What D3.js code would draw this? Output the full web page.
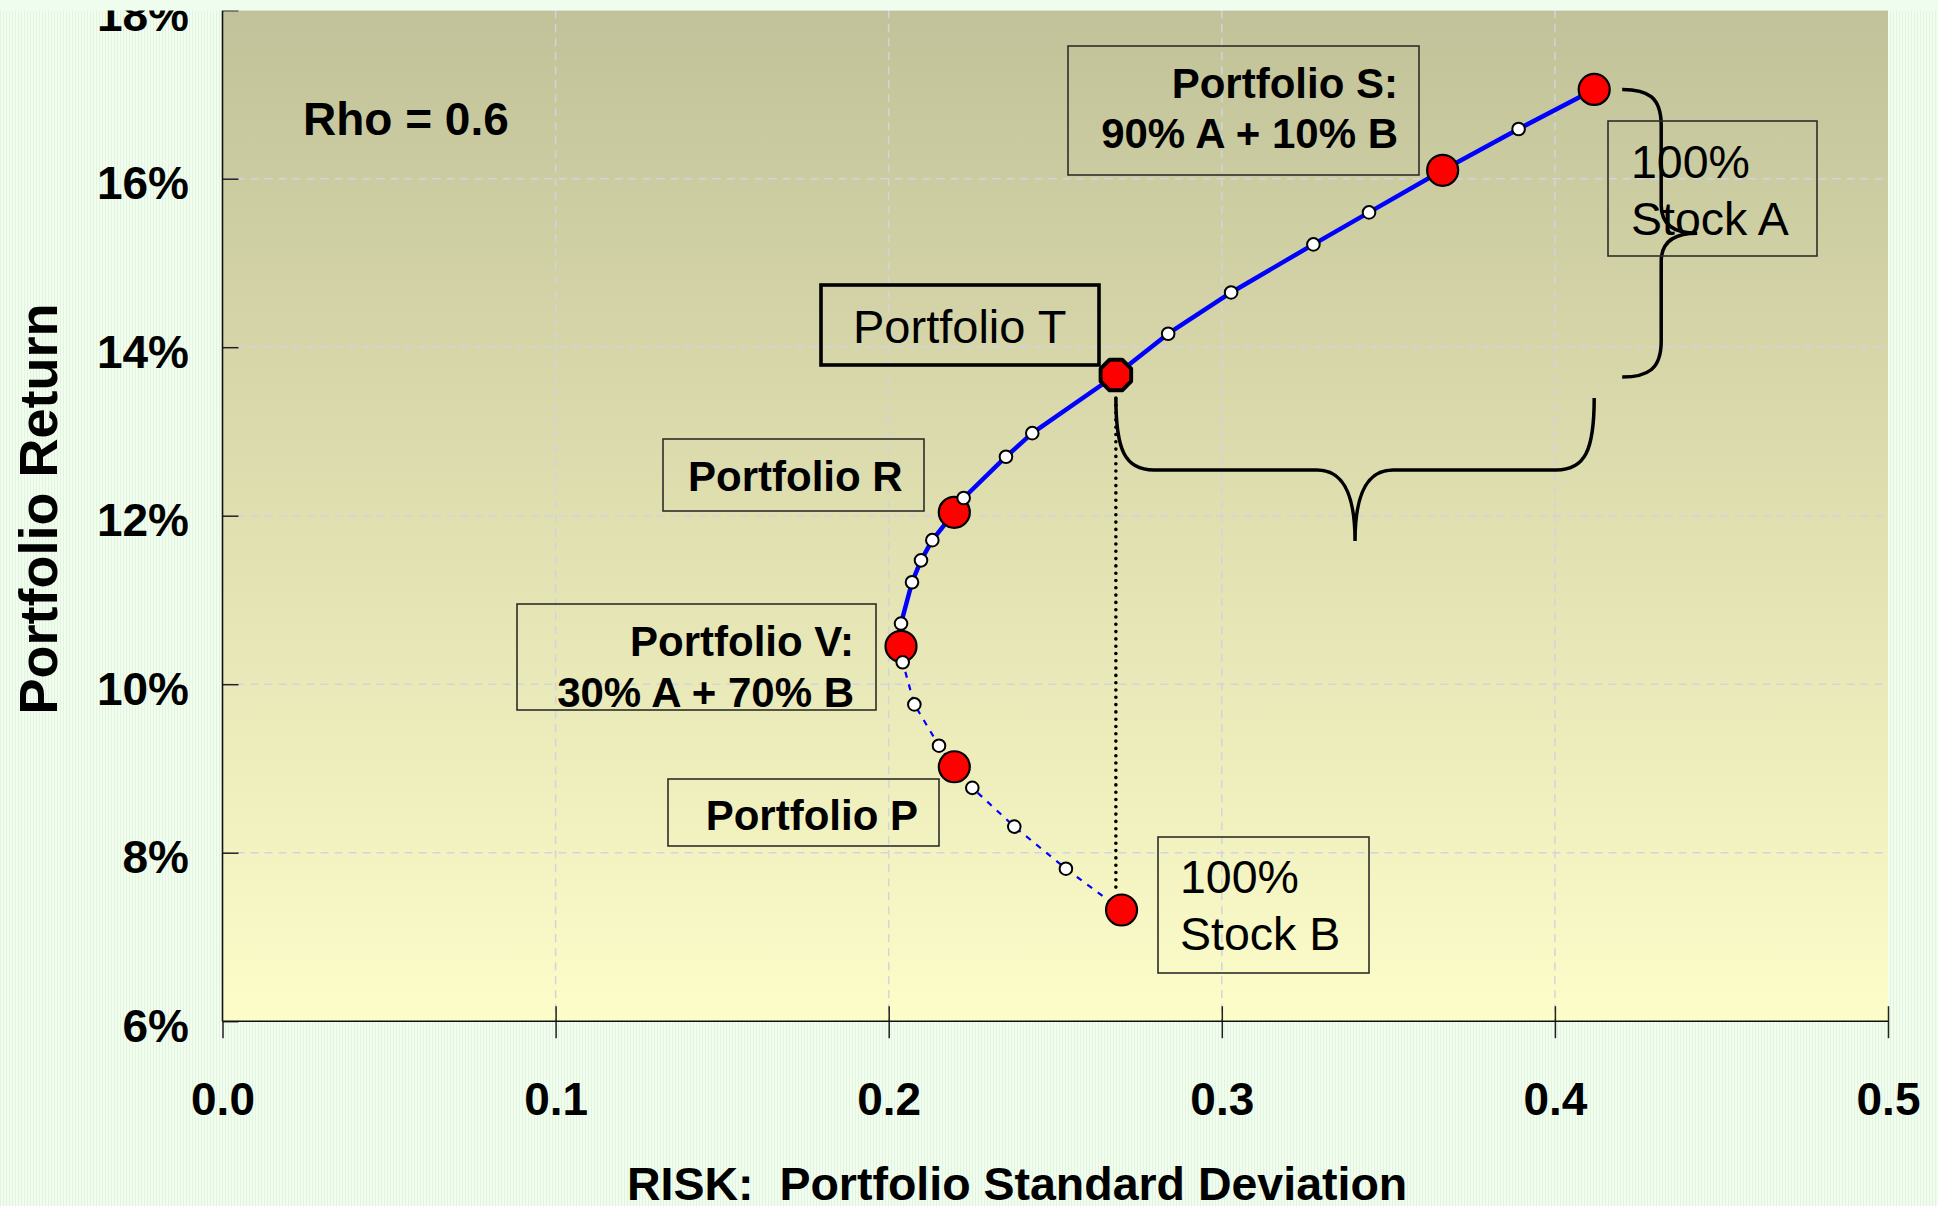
<!DOCTYPE html>
<html>
<head>
<meta charset="utf-8">
<title>Portfolio Return vs Risk, Rho = 0.6</title>
<script src="https://cdn.jsdelivr.net/npm/d3@7"></script>
<style>
  html, body { margin: 0; padding: 0; background: #eefbeb; }
  svg { display: block; font-family: "Liberation Sans", Arial, Helvetica, sans-serif; }
</style>
</head>
<body>
<svg id="chart" width="1938" height="1206"></svg>
<script>
// Two-asset portfolio frontier (Stock A / Stock B, correlation 0.6)
// Intermediate mixes along the frontier: risk (std. dev.) and return (%)
const frontierRisk   = [0.3891, 0.3442, 0.3275, 0.3028, 0.2839, 0.2431, 0.2352, 0.2225, 0.2131,
                        0.2097, 0.2070, 0.2037, 0.2042, 0.2077, 0.2151, 0.2251, 0.2377, 0.2532];
const frontierReturn = [16.59, 15.60, 15.22, 14.65, 14.16, 12.98, 12.70, 12.21, 11.71,
                        11.47, 11.21, 10.72, 10.26, 9.76, 9.27, 8.77, 8.31, 7.81];

// Highlighted portfolios
const keyNames  = ["A", "S", "T", "R", "V", "P", "B"];
const keyRisk   = [0.4118, 0.3663, 0.2682, 0.2197, 0.2037, 0.2197, 0.2699];
const keyReturn = [17.06, 16.10, 13.67, 12.04, 10.45, 9.02, 7.32];

// Axis ticks
const xTicks = [0.0, 0.1, 0.2, 0.3, 0.4, 0.5];
const yTicks = [6, 8, 10, 12, 14, 16, 18];
const xTickLabels = ["0.0", "0.1", "0.2", "0.3", "0.4", "0.5"];
const yTickLabels = ["6%", "8%", "10%", "12%", "14%", "16%", "18%"];

// Texts
const xTitle = "RISK:  Portfolio Standard Deviation";
const yTitle = "Portfolio Return";
const rhoText = "Rho = 0.6";

const W = 1938, H = 1206;
const svg = d3.select("#chart");
const defs = svg.append("defs");

// Page background with fine vertical texture
const pat = defs.append("pattern").attr("id", "tex").attr("width", 3).attr("height", 3)
  .attr("patternUnits", "userSpaceOnUse");
pat.append("rect").attr("width", 3).attr("height", 3).attr("fill", "#f1fdef");
pat.append("rect").attr("width", 1).attr("height", 3).attr("fill", "#e2f4de");
svg.append("rect").attr("width", W).attr("height", H).attr("fill", "url(#tex)");

const x = d3.scaleLinear().domain([0, 0.5]).range([222.5, 1888]);
const y = d3.scaleLinear().domain([6, 18]).range([1021.2, 10.2]);

// Plot area gradient (olive at top to pale yellow at bottom)
const grad = defs.append("linearGradient").attr("id", "plotbg")
  .attr("x1", 0).attr("y1", 0).attr("x2", 0).attr("y2", 1);
grad.append("stop").attr("offset", "0%").attr("stop-color", "#c2c29a");
grad.append("stop").attr("offset", "50%").attr("stop-color", "#dfdfb0");
grad.append("stop").attr("offset", "100%").attr("stop-color", "#fdfdca");

svg.append("rect")
  .attr("x", x(0)).attr("y", y(18))
  .attr("width", x(0.5) - x(0)).attr("height", y(6) - y(18))
  .attr("fill", "url(#plotbg)");

// Dashed grid
const grid = svg.append("g").attr("stroke", "#d3d3db").attr("stroke-width", 1.5)
  .attr("stroke-dasharray", "8,6");
grid.selectAll("line.gx").data(xTicks.filter(v => v > 0 && v < 0.5)).join("line")
  .attr("class", "gx")
  .attr("x1", d => x(d)).attr("x2", d => x(d))
  .attr("y1", y(18)).attr("y2", y(6));
grid.selectAll("line.gy").data(yTicks.filter(v => v > 6 && v < 18)).join("line")
  .attr("class", "gy")
  .attr("x1", x(0)).attr("x2", x(0.5))
  .attr("y1", d => y(d)).attr("y2", d => y(d));

// Axes
const fmtY = d => yTickLabels[yTicks.indexOf(d)];
const fmtX = d => xTickLabels[xTicks.indexOf(d)];

const yAxis = svg.append("g").attr("transform", `translate(${x(0)},0)`)
  .call(d3.axisLeft(y).tickValues(yTicks).tickFormat(fmtY).tickSize(15).tickPadding(18.5));
yAxis.select(".domain").remove();
yAxis.selectAll(".tick line").attr("x2", 16).attr("stroke", "#222").attr("stroke-width", 1.5);
yAxis.selectAll(".tick text").attr("dy", "20px")
  .attr("font-size", 46).attr("font-weight", "bold").attr("fill", "#000")
  .attr("font-family", "'Liberation Sans', Arial, sans-serif");

const xAxis = svg.append("g").attr("transform", `translate(0,${y(6)})`)
  .call(d3.axisBottom(x).tickValues(xTicks).tickFormat(fmtX).tickSize(17));
xAxis.select(".domain").remove();
xAxis.selectAll(".tick line").attr("y1", d => d === 0 ? 0 : -15)
  .attr("stroke", "#222").attr("stroke-width", 1.5);
xAxis.selectAll(".tick text").attr("y", 94).attr("dy", 0)
  .attr("font-size", 46).attr("font-weight", "bold").attr("fill", "#000")
  .attr("font-family", "'Liberation Sans', Arial, sans-serif");

// Axis lines
svg.append("line").attr("x1", x(0)).attr("x2", x(0)).attr("y1", y(18)).attr("y2", y(6))
  .attr("stroke", "#111").attr("stroke-width", 1.6);
svg.append("line").attr("x1", x(0)).attr("x2", x(0.5)).attr("y1", y(6)).attr("y2", y(6))
  .attr("stroke", "#111").attr("stroke-width", 1.6);

// Frontier points merged and ordered by return
const whitePts = frontierRisk.map((r, i) => ({ risk: r, ret: frontierReturn[i] }));
const keyPts = keyNames.map((n, i) => ({ name: n, risk: keyRisk[i], ret: keyReturn[i] }));
const allPts = whitePts.concat(keyPts).sort((a, b) => b.ret - a.ret);
const vRet = keyPts.find(p => p.name === "V").ret;

const line = d3.line().x(d => x(d.risk)).y(d => y(d.ret));
// Efficient part (solid)
svg.append("path").datum(allPts.filter(p => p.ret >= vRet))
  .attr("d", line).attr("fill", "none").attr("stroke", "#0000ff")
  .attr("stroke-width", 4.5).attr("stroke-linejoin", "round");
// Inefficient part (dashed)
svg.append("path").datum(allPts.filter(p => p.ret <= vRet))
  .attr("d", line).attr("fill", "none").attr("stroke", "#0000ff")
  .attr("stroke-width", 2.2).attr("stroke-dasharray", "6,7");

// Dotted drop line from portfolio T to stock B
const pT = keyPts.find(p => p.name === "T");
const pA = keyPts.find(p => p.name === "A");
const pB = keyPts.find(p => p.name === "B");
svg.append("line")
  .attr("x1", x(pT.risk)).attr("x2", x(pT.risk))
  .attr("y1", y(pT.ret) + 23).attr("y2", y(pB.ret) - 22)
  .attr("stroke", "#000").attr("stroke-width", 3.6)
  .attr("stroke-linecap", "round").attr("stroke-dasharray", "0,7.3");

// Horizontal brace spanning risk of T to risk of A
{
  const xl = x(pT.risk), xr = x(pA.risk), xm = (xl + xr) / 2;
  const yt = y(pT.ret) + 23, yb = 470, ytip = 541;
  const p = d3.path();
  p.moveTo(xl, yt);
  p.bezierCurveTo(xl, yt + 52, xl + 9, yb, xl + 38, yb);
  p.lineTo(xm - 38, yb);
  p.bezierCurveTo(xm - 14, yb, xm, yb + 20, xm, ytip);
  p.bezierCurveTo(xm, yb + 20, xm + 14, yb, xm + 38, yb);
  p.lineTo(xr - 38, yb);
  p.bezierCurveTo(xr - 9, yb, xr, yt + 52, xr, yt);
  svg.append("path").attr("d", p.toString()).attr("fill", "none")
    .attr("stroke", "#000").attr("stroke-width", 3.5);
}

// Vertical brace spanning return of T to return of A
{
  const yt = y(pA.ret), yb2 = y(pT.ret) + 2, ym = (yt + yb2) / 2;
  const xe = x(pA.risk) + 28, xb = xe + 39, xtip = xb + 36;
  const p = d3.path();
  p.moveTo(xe, yt);
  p.bezierCurveTo(xe + 26, yt, xb, yt + 8, xb, yt + 36);
  p.lineTo(xb, ym - 28);
  p.bezierCurveTo(xb, ym - 8, xb + 14, ym, xtip, ym);
  p.bezierCurveTo(xb + 14, ym, xb, ym + 8, xb, ym + 28);
  p.lineTo(xb, yb2 - 36);
  p.bezierCurveTo(xb, yb2 - 8, xe + 26, yb2, xe, yb2);
  svg.append("path").attr("d", p.toString()).attr("fill", "none")
    .attr("stroke", "#000").attr("stroke-width", 3.5);
}

// Key portfolios: red circles (T drawn as octagon)
svg.selectAll("circle.key").data(keyPts.filter(p => p.name !== "T")).join("circle")
  .attr("class", "key")
  .attr("cx", d => x(d.risk)).attr("cy", d => y(d.ret)).attr("r", 15.5)
  .attr("fill", "#ff0000").attr("stroke", "#000").attr("stroke-width", 2.2);

// Intermediate mixes: small white circles
svg.selectAll("circle.mix").data(whitePts).join("circle")
  .attr("class", "mix")
  .attr("cx", d => x(d.risk)).attr("cy", d => y(d.ret)).attr("r", 6.3)
  .attr("fill", "#fff").attr("stroke", "#000").attr("stroke-width", 2);

// Portfolio T marker (octagon)
{
  const cx = x(pT.risk), cy = y(pT.ret), R = 16.5;
  const pts = d3.range(8).map(k => {
    const a = Math.PI / 8 + k * Math.PI / 4;
    return [cx + R * Math.cos(a), cy + R * Math.sin(a)];
  });
  svg.append("polygon").attr("points", pts.map(p => p.join(",")).join(" "))
    .attr("fill", "#ff0000").attr("stroke", "#000").attr("stroke-width", 4)
    .attr("stroke-linejoin", "round");
}

// Annotation boxes
const boxes = [
  { x: 1068, y: 46,  w: 351, h: 129, sw: 1.6, anchor: "end",   tx: 1398, lines: ["Portfolio S:", "90% A + 10% B"], base: [98, 148], bold: true,  fs: 42 },
  { x: 1608, y: 121, w: 209, h: 135, sw: 1.6, anchor: "start", tx: 1631, lines: ["100%", "Stock A"], base: [178, 235], bold: false, fs: 46.5 },
  { x: 821,  y: 285, w: 278, h: 80,  sw: 3.6, anchor: "start", tx: 853,  lines: ["Portfolio T"], base: [343], bold: false, fs: 47 },
  { x: 663,  y: 439, w: 261, h: 72,  sw: 1.6, anchor: "start", tx: 688,  lines: ["Portfolio R"], base: [491], bold: true,  fs: 42 },
  { x: 517,  y: 604, w: 359, h: 106, sw: 1.6, anchor: "end",   tx: 854,  lines: ["Portfolio V:", "30% A + 70% B"], base: [656, 707], bold: true, fs: 42 },
  { x: 668,  y: 779, w: 271, h: 67,  sw: 1.6, anchor: "end",   tx: 918,  lines: ["Portfolio P"], base: [830], bold: true,  fs: 42 },
  { x: 1158, y: 837, w: 211, h: 136, sw: 1.6, anchor: "start", tx: 1180, lines: ["100%", "Stock B"], base: [893, 950], bold: false, fs: 46.5 }
];
const bg = svg.selectAll("g.box").data(boxes).join("g").attr("class", "box");
bg.append("rect")
  .attr("x", d => d.x).attr("y", d => d.y).attr("width", d => d.w).attr("height", d => d.h)
  .attr("fill", "none").attr("stroke", d => d.sw > 2 ? "#000" : "#2e2e28").attr("stroke-width", d => d.sw);
bg.each(function (d) {
  d3.select(this).selectAll("text").data(d.lines).join("text")
    .attr("x", d.tx).attr("y", (t, i) => d.base[i])
    .attr("text-anchor", d.anchor)
    .attr("font-size", d.fs).attr("font-weight", d.bold ? "bold" : "normal")
    .attr("fill", "#000").text(t => t);
});

// Correlation label
svg.append("text").attr("x", 303).attr("y", 135)
  .attr("font-size", 46).attr("font-weight", "bold").text(rhoText);

// Axis titles
svg.append("text").attr("x", 627).attr("y", 1200)
  .attr("font-size", 46.5).attr("font-weight", "bold")
  .style("white-space", "pre").text(xTitle);
svg.append("text").attr("transform", "translate(57,509) rotate(-90)")
  .attr("text-anchor", "middle")
  .attr("font-size", 54).attr("font-weight", "bold").text(yTitle);

// Plain strip along the top edge
svg.append("rect").attr("x", 0).attr("y", 0).attr("width", W).attr("height", 10.5).attr("fill", "#effdef");
</script>
</body>
</html>
